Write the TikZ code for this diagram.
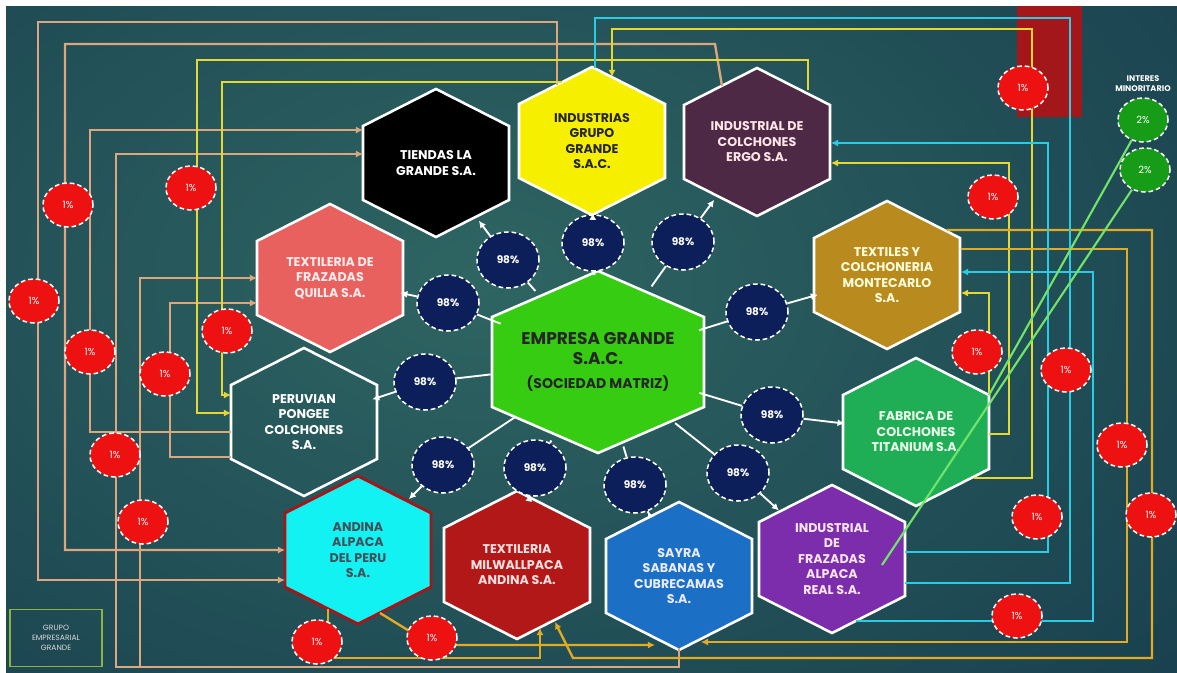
\documentclass[tikz,border=0pt]{standalone}
\usepackage{fontspec}
\setmainfont{Poppins}
\usepackage{tikz}
\usetikzlibrary{arrows.meta}
\usetikzlibrary{shapes.geometric,calc,positioning}
\tikzset{font={\fontsize{9.5pt}{13}\selectfont}}
\usepackage{xcolor}

\definecolor{bgin}{HTML}{2E6562}
\definecolor{bgout}{HTML}{173D4D}
\definecolor{tanc}{HTML}{DCA67E}
\definecolor{yelc}{HTML}{E6D832}
\definecolor{goldc}{HTML}{E3AA22}
\definecolor{cyanc}{HTML}{2ACBE3}
\definecolor{lgreen}{HTML}{72E468}
\definecolor{navyc}{HTML}{0D1F5B}
\definecolor{redc}{HTML}{EE1111}
\definecolor{minorc}{HTML}{179C17}
\definecolor{boxred}{HTML}{A3161A}
\definecolor{boxgreen}{HTML}{8DB43C}
\definecolor{industc}{HTML}{F6F000}
\definecolor{ergoc}{HTML}{4E2946}
\definecolor{quillac}{HTML}{E8615F}
\definecolor{montec}{HTML}{B98A1D}
\definecolor{titanc}{HTML}{1FAD55}
\definecolor{andinac}{HTML}{12F2F2}
\definecolor{milwac}{HTML}{B21818}
\definecolor{sayrac}{HTML}{1B70C5}
\definecolor{alpacac}{HTML}{7C2DAB}
\definecolor{empc}{HTML}{35CC12}

\tikzset{
  >={Latex[length=6pt,width=6pt]},
  hexa/.style={draw=white, line width=2.2pt},
  hexlabel/.style={circle, minimum size=4.3cm, inner sep=0pt, align=center,
    font=\fontsize{10.8}{13.2}\selectfont\bfseries},
  share/.style={ellipse, draw=white, line width=1.3pt, dash pattern=on 4pt off 2.5pt,
    fill=navyc, text=white, minimum width=1.86cm, minimum height=1.68cm, inner sep=0pt,
    font=\fontsize{9}{10}\selectfont\bfseries},
  minor/.style={ellipse, draw=white, line width=1.3pt, dash pattern=on 4pt off 2.5pt,
    fill=redc, text=white, minimum width=1.5cm, minimum height=1.32cm, inner sep=0pt,
    font=\fontsize{8.5}{9}\selectfont},
  link/.style={draw=white, line width=1.6pt},
  tanl/.style={draw=tanc, line width=2pt},
  yell/.style={draw=yelc, line width=2pt},
  goldl/.style={draw=goldc, line width=2pt},
  cyanl/.style={draw=cyanc, line width=2pt},
  grnl/.style={draw=lgreen, line width=1.8pt},
}

% hexagon: name, centre, fill, text colour, text
\newcommand{\hexa}[5]{%
  \draw[hexa,#3] #2 +(0,-74) -- +(73,-37) -- +(73,37) -- +(0,74) -- +(-73,37) -- +(-73,-37) -- cycle;
  \node[hexlabel,text=#4] (#1) at #2 {#5};
}

\begin{document}
\begin{tikzpicture}[x=0.03cm, y=-0.03cm]
  \useasboundingbox (0,0) rectangle (1177,673);
  % Background
  \begin{scope}
    \clip (6,6) rectangle (1177,673);
    \fill[bgout] (6,6) rectangle (1177,673);
    \shade[inner color=bgin, outer color=bgout] (480,280) ellipse [x radius=30cm, y radius=20cm];
  \end{scope}
  \fill[boxred] (1017,6) rectangle (1082,117);

  % Define nodes
  \hexa{tiendas}{(436,163)}{fill=black}{white}{TIENDAS LA\\GRANDE S.A.}
  \hexa{industrias}{(592,141)}{fill=industc}{black!85}{INDUSTRIAS\\GRUPO\\GRANDE\\S.A.C.}
  \hexa{ergo}{(757,142)}{fill=ergoc}{pink!40!white}{INDUSTRIAL DE\\COLCHONES\\ERGO S.A.}
  \hexa{quilla}{(330,278)}{fill=quillac}{white!92!red}{TEXTILERIA DE\\FRAZADAS\\QUILLA S.A.}
  \hexa{montecarlo}{(887,275)}{fill=montec}{yellow!15!white}{TEXTILES Y\\COLCHONERIA\\MONTECARLO\\S.A.}
  \hexa{peruvian}{(304,422)}{}{white}{PERUVIAN\\PONGEE\\COLCHONES\\S.A.}
  \hexa{titanium}{(916,432)}{fill=titanc}{green!8!white}{FABRICA DE\\COLCHONES\\TITANIUM S.A.}
  \hexa{andina}{(358,550)}{fill=andinac, draw=boxred, line width=2.5pt}{cyan!25!black}{ANDINA\\ALPACA\\DEL PERU\\S.A.}
  \hexa{milwallpaca}{(517,565)}{fill=milwac}{red!12!white}{TEXTILERIA\\MILWALLPACA\\ANDINA S.A.}
  \hexa{sayra}{(679,576)}{fill=sayrac}{blue!8!white}{SAYRA\\SABANAS Y\\CUBRECAMAS\\S.A.}
  \hexa{alpaca}{(832,559)}{fill=alpacac}{magenta!10!white}{INDUSTRIAL\\DE\\FRAZADAS\\ALPACA\\REAL S.A.}
  \draw[hexa, fill=empc] (598,362) +(0,-91) -- +(106,-45) -- +(106,45) -- +(0,91) -- +(-106,45) -- +(-106,-45) -- cycle;
  \node[ellipse, minimum width=6.2cm, minimum height=5.2cm, inner sep=0pt, align=center, text=black!85,
    font=\fontsize{14.5}{17}\selectfont\bfseries] (empresa) at (598,362)
    {EMPRESA GRANDE\\S.A.C.\\[3pt]{\fontsize{12}{14}\selectfont (SOCIEDAD MATRIZ)}};

  \node[share] (s1) at (508,260) {98\%};
  \node[share] (s2) at (593,243) {98\%};
  \node[share] (s3) at (683,242) {98\%};
  \node[share] (s4) at (448,303) {98\%};
  \node[share] (s5) at (757,312) {98\%};
  \node[share] (s6) at (425,382) {98\%};
  \node[share] (s7) at (772,415) {98\%};
  \node[share] (s8) at (443,465) {98\%};
  \node[share] (s9) at (535,468) {98\%};
  \node[share] (s10) at (635,485) {98\%};
  \node[share] (s11) at (738,473) {98\%};

  \node[minor, fill=minorc] (m1) at (1143,120) {2\%};
  \node[minor, fill=minorc] (m2) at (1145,170) {2\%};
  \node[above=0.05cm of m1, align=center, text=white, font=\fontsize{7}{8.5}\selectfont\bfseries] (minlabel) {INTERES\\MINORITARIO};
  \node[draw=boxgreen, line width=1.3pt, minimum width=2.76cm, minimum height=1.71cm, align=center,
    text=white!85!black, font=\fontsize{6.5}{8.5}\selectfont] (grupo) at (56,638) {GRUPO\\EMPRESARIAL\\GRANDE};

  % Connect the nodes
  \draw[tanl,->] ($(industrias)+(-35,-56)$) |- (38,22) |- ($(andina)+(-73,30)$);
  \draw[tanl,->] ($(ergo)+(-35,-56)$) -- (715,44) -| (65,550) -- ($(andina)+(-73,0)$);
  \draw[tanl,->] ($(peruvian)+(-73,10)$) -| (90,130) -- ($(tiendas)+(-73,-33)$);
  \draw[tanl,->] (sayra.south) |- (116,667) |- ($(tiendas)+(-73,-9)$);
  \draw[tanl,->] (sayra.south) |- (140,667) |- ($(quilla)+(-73,0)$);
  \draw[tanl,->] ($(peruvian)+(-73,35)$) -| (170,303) -- ($(quilla)+(-73,25)$);

  \draw[yell,->] ($(ergo)+(51,-52)$) |- (197,60) |- ($(peruvian)+(-73,-9)$);
  \draw[yell,->] ($(industrias)+(-30,-59)$) -| (222,395) -- ($(peruvian)+(-73,-27)$);
  \draw[yell,->] ($(titanium)+(58,46)$) -| (1032,29) -| ($(industrias)+(20,-64)$);
  \draw[yell,->] ($(titanium)+(73,2)$) -| (1009,163) -- ($(ergo)+(74,21)$);
  \draw[yell,->] ($(titanium)+(73,-37)$) |- ($(montecarlo)+(74,18)$);

  \draw[goldl,->] ($(montecarlo)+(60,-45)$) -| (1152,658) -- (573,658) -- ($(milwallpaca)+(38,57)$);
  \draw[goldl,->] ($(montecarlo)+(74,-26)$) -| (1127,642) -- ($(sayra)+(22,66)$);
  \draw[goldl,->] ($(andina)+(-30,59)$) |- (540,658) -- ($(milwallpaca)+(23,63)$);
  \draw[goldl,->] ($(andina)+(22,63)$) -- (432,645) -- ($(sayra)+(-24,69)$);

  \draw[cyanl] ($(alpaca)+(73,24)$) -| (1070,18) -| ($(industrias)+(3,-73)$);
  \draw[cyanl,->] ($(alpaca)+(73,-7)$) -| (1048,143) -- ($(ergo)+(74,1)$);
  \draw[cyanl,->] ($(alpaca)+(24,62)$) -| (1093,272) -- ($(montecarlo)+(74,-3)$);

  \draw[grnl] (m1) -- ($(titanium)+(73,-37)$);
  \draw[grnl] (m2) -- ($(alpaca)+(50,6)$);

  \draw[link] (empresa) -- (s1); \draw[link,->] (s1) -- (tiendas);
  \draw[link] (empresa) -- (s2); \draw[link,->] (s2) -- (industrias);
  \draw[link] (empresa) -- (s3); \draw[link,->] (s3) -- (ergo);
  \draw[link] (empresa) -- (s4); \draw[link,->] (s4) -- (quilla);
  \draw[link] (empresa) -- (s5); \draw[link,->] (s5) -- (montecarlo);
  \draw[link] (empresa) -- (s6); \draw[link,->] (s6) -- (peruvian);
  \draw[link] (empresa) -- (s7); \draw[link,->] (s7) -- (titanium);
  \draw[link] (empresa) -- (s8); \draw[link,->] (s8) -- (andina);
  \draw[link] (empresa) -- (s9); \draw[link,->] (s9) -- (milwallpaca);
  \draw[link] (empresa) -- (s10); \draw[link,->] (s10) -- (sayra);
  \draw[link] (empresa) -- (s11); \draw[link,->] (s11) -- (alpaca);

  % 1% stakes
  \node[minor] (p1) at (68,205) {1\%};
  \node[minor] (p2) at (34,301) {1\%};
  \node[minor] (p3) at (90,352) {1\%};
  \node[minor] (p4) at (165,374) {1\%};
  \node[minor] (p5) at (115,455) {1\%};
  \node[minor] (p6) at (143,522) {1\%};
  \node[minor] (p7) at (191,188) {1\%};
  \node[minor] (p8) at (227,331) {1\%};
  \node[minor] (p9) at (317,642) {1\%};
  \node[minor] (p10) at (432,638) {1\%};
  \node[minor] (p11) at (1023,88) {1\%};
  \node[minor] (p12) at (993,197) {1\%};
  \node[minor] (p13) at (977,352) {1\%};
  \node[minor] (p14) at (1066,370) {1\%};
  \node[minor] (p15) at (1122,445) {1\%};
  \node[minor] (p16) at (1037,517) {1\%};
  \node[minor] (p17) at (1151,515) {1\%};
  \node[minor] (p18) at (1017,616) {1\%};
\end{tikzpicture}
\end{document}
